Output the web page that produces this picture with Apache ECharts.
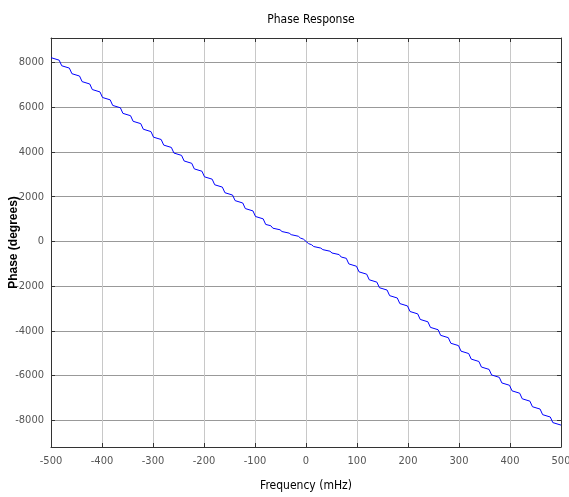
<!DOCTYPE html>
<html>
<head>
<meta charset="utf-8">
<script src="https://cdn.jsdelivr.net/npm/echarts@6/dist/echarts.min.js"></script>
<style>html,body{margin:0;padding:0;background:#fff}#c{width:569px;height:497px}</style>
</head>
<body>
<div id="c"></div>
<script>
const titleText = 'Phase Response';
const xName = 'Frequency (mHz)';
const yName = 'Phase (degrees)';
const yTicks = [-8000, -6000, -4000, -2000, 0, 2000, 4000, 6000, 8000];
const freq = [-500, -484, -479, -464, -459, -444, -439, -424, -419, -404, -399, -384, -379, -364, -359, -344, -339, -324, -319, -304, -299, -284, -279, -264, -259, -244, -239, -224, -219, -204, -199, -184, -179, -164, -159, -144, -139, -124, -119, -104, -99, -84, -79,
  -69, -65, -51, -47, -33, -29, -15, -11, -5, 0, 5, 11, 15, 29, 33, 47, 51, 65, 69,
  79, 84, 99, 104, 119, 124, 139, 144, 159, 164, 179, 184, 199, 204, 219, 224, 239, 244, 259, 264, 279, 284, 299, 304, 319, 324, 339, 344, 359, 364, 379, 384, 399, 404, 419, 424, 439, 444, 459, 464, 479, 484, 500];
const phase = [8220, 8108, 7858, 7753, 7503, 7398, 7148, 7043, 6793, 6688, 6438, 6333, 6083, 5978, 5728, 5623, 5373, 5268, 5018, 4913, 4663, 4558, 4308, 4203, 3953, 3848, 3598, 3493, 3243, 3138, 2888, 2783, 2533, 2428, 2178, 2073, 1823, 1718, 1468, 1363, 1113, 1008, 758,
  700, 590, 520, 440, 370, 300, 230, 150, 100, 0, -100, -150, -230, -300, -370, -440, -520, -590, -700,
  -758, -1008, -1113, -1363, -1468, -1718, -1823, -2073, -2178, -2428, -2533, -2783, -2888, -3138, -3243, -3493, -3598, -3848, -3953, -4203, -4308, -4558, -4663, -4913, -5018, -5268, -5373, -5623, -5728, -5978, -6083, -6333, -6438, -6688, -6793, -7043, -7148, -7398, -7503, -7753, -7858, -8108, -8220];

const narrow = '"Liberation Sans Narrow", "Arial Narrow", "DejaVu Sans Condensed", sans-serif';
const plain = v => String(v);
const chart = echarts.init(document.getElementById('c'), null, {renderer: 'canvas'});
const frame = {show: true, onZero: false, lineStyle: {color: '#333', width: 1}};
const tick = {show: true, inside: true, length: 4, lineStyle: {color: '#333'}};
chart.setOption({
  animation: false,
  title: {text: titleText, left: 306, top: 9, textAlign: 'center',
    textStyle: {fontFamily: narrow, fontSize: 12, fontWeight: 'normal', color: '#000'}},
  grid: {left: 51, right: 8, top: 38, bottom: 50, containLabel: false, outerBoundsMode: 'none'},
  xAxis: [{
    type: 'value', min: -500, max: 500, interval: 100,
    name: xName, nameLocation: 'middle', nameGap: 33, nameMoveOverlap: false,
    nameTextStyle: {fontFamily: narrow, fontSize: 12, color: '#000'},
    axisLine: frame, axisTick: tick,
    axisLabel: {fontFamily: narrow, fontSize: 11, color: '#555', margin: 9, formatter: plain},
    splitLine: {show: true, lineStyle: {color: '#c8c8c8', width: 1}}
  }, {
    type: 'value', position: 'top', min: -500, max: 500, interval: 100,
    axisLine: frame, axisTick: tick,
    axisLabel: {show: false}, splitLine: {show: false}
  }],
  yAxis: [{
    type: 'value', min: -9200, max: 9100,
    name: yName, nameLocation: 'middle', nameGap: 31, nameRotate: 90, nameMoveOverlap: false,
    nameTextStyle: {fontFamily: '"Liberation Sans", Arial, sans-serif', fontSize: 12, fontWeight: 'bold', color: '#000'},
    axisLine: frame,
    axisTick: Object.assign({customValues: yTicks}, tick),
    axisLabel: {fontFamily: narrow, fontSize: 11, color: '#555', margin: 7, customValues: yTicks, formatter: plain},
    splitLine: {show: true, lineStyle: {color: '#999', width: 1}}
  }, {
    type: 'value', position: 'right', min: -9200, max: 9100,
    axisLine: frame,
    axisTick: Object.assign({customValues: yTicks}, tick),
    axisLabel: {show: false, customValues: yTicks}, splitLine: {show: false}
  }],
  series: [{
    type: 'line', xAxisIndex: 0, yAxisIndex: 0, showSymbol: false, symbol: 'none',
    lineStyle: {color: '#0000ff', width: 1},
    data: freq.map((f, i) => [f, phase[i]])
  }]
});
</script>
</body>
</html>
